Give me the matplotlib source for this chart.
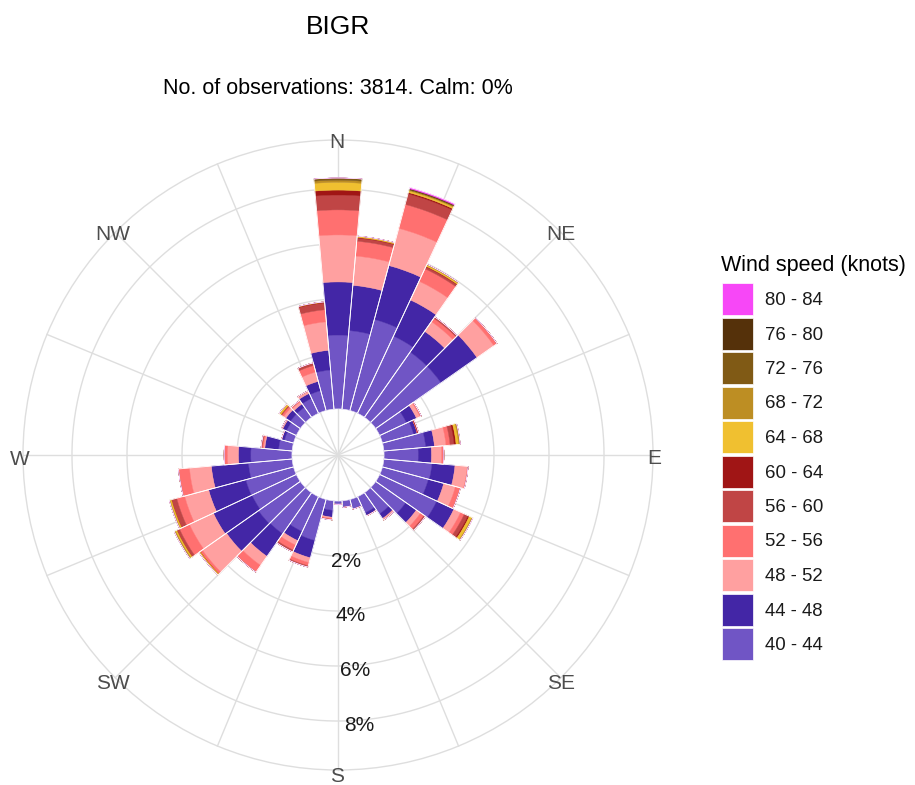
import numpy as np
import matplotlib
matplotlib.use("Agg")
import matplotlib.pyplot as plt
from matplotlib.patches import Rectangle

plt.rcParams['font.family'] = ['Liberation Sans', 'DejaVu Sans']

# wind directions (degrees, 10 degree sectors)
directions = list(range(0, 360, 10))

# frequency (%) of each speed class per direction
s40_44 = [2.69, 2.87, 3.43, 3.10, 2.90, 2.90, 1.08, 1.18, 1.53, 1.25, 1.76, 1.73,
          2.29, 1.34, 0.95, 0.65, 0.37, 0.24, 0.12, 0.35, 1.55, 1.40, 1.83, 1.86,
          1.78, 1.80, 1.60, 1.50, 0.50, 0.35, 0.40, 0.45, 0.45, 0.60, 0.75, 1.43]
s44_48 = [1.93, 1.65, 2.03, 1.45, 0.92, 1.60, 0.40, 0.14, 0.32, 0.48, 0.84, 0.58,
          0.69, 0.47, 0.20, 0.12, 0.00, 0.00, 0.00, 0.25, 0.65, 0.37, 1.00, 1.42,
          1.55, 1.40, 1.35, 0.45, 0.50, 0.11, 0.15, 0.20, 0.15, 0.20, 0.35, 0.72]
s48_52 = [1.71, 1.07, 1.40, 0.75, 0.43, 0.75, 0.14, 0.00, 0.42, 0.37, 0.45, 0.44,
          0.27, 0.19, 0.07, 0.00, 0.00, 0.00, 0.00, 0.05, 0.18, 0.18, 0.40, 1.07,
          0.96, 0.90, 0.80, 0.40, 0.05, 0.00, 0.05, 0.10, 0.10, 0.10, 0.35, 1.04]
s52_56 = [0.91, 0.54, 0.90, 0.50, 0.15, 0.14, 0.05, 0.00, 0.15, 0.08, 0.03, 0.19,
          0.15, 0.15, 0.00, 0.00, 0.00, 0.00, 0.00, 0.03, 0.12, 0.20, 0.30, 0.10,
          0.40, 0.30, 0.40, 0.12, 0.05, 0.00, 0.00, 0.08, 0.05, 0.00, 0.25, 0.44]
s56_60 = [0.54, 0.12, 0.40, 0.08, 0.06, 0.00, 0.00, 0.03, 0.15, 0.00, 0.00, 0.00,
          0.15, 0.06, 0.00, 0.00, 0.00, 0.00, 0.00, 0.02, 0.05, 0.07, 0.00, 0.00,
          0.11, 0.20, 0.00, 0.00, 0.04, 0.00, 0.00, 0.04, 0.00, 0.00, 0.10, 0.25]
s60_64 = [0.18, 0.02, 0.05, 0.02, 0.00, 0.00, 0.00, 0.02, 0.07, 0.00, 0.00, 0.00,
          0.05, 0.00, 0.00, 0.00, 0.00, 0.00, 0.00, 0.00, 0.00, 0.00, 0.00, 0.00,
          0.00, 0.00, 0.00, 0.00, 0.00, 0.00, 0.00, 0.00, 0.00, 0.00, 0.00, 0.02]
s64_68 = [0.28, 0.05, 0.06, 0.05, 0.00, 0.00, 0.00, 0.00, 0.09, 0.00, 0.00, 0.00,
          0.10, 0.00, 0.00, 0.00, 0.00, 0.00, 0.00, 0.00, 0.00, 0.00, 0.00, 0.05,
          0.05, 0.05, 0.00, 0.00, 0.00, 0.00, 0.00, 0.08, 0.00, 0.00, 0.00, 0.02]
s68_72 = [0.08, 0.00, 0.03, 0.03, 0.00, 0.00, 0.00, 0.00, 0.06, 0.00, 0.00, 0.00,
          0.04, 0.00, 0.00, 0.00, 0.00, 0.00, 0.00, 0.00, 0.00, 0.00, 0.00, 0.00,
          0.05, 0.03, 0.00, 0.00, 0.00, 0.00, 0.00, 0.00, 0.00, 0.00, 0.00, 0.00]
s72_76 = [0.08, 0.00, 0.03, 0.00, 0.00, 0.00, 0.00, 0.00, 0.00, 0.00, 0.00, 0.00,
          0.00, 0.00, 0.00, 0.00, 0.00, 0.00, 0.00, 0.00, 0.00, 0.00, 0.00, 0.00,
          0.00, 0.00, 0.00, 0.00, 0.00, 0.00, 0.00, 0.00, 0.00, 0.00, 0.00, 0.00]
s76_80 = [0.00, 0.00, 0.02, 0.00, 0.00, 0.00, 0.00, 0.00, 0.00, 0.00, 0.00, 0.00,
          0.00, 0.00, 0.00, 0.00, 0.00, 0.00, 0.00, 0.00, 0.00, 0.00, 0.00, 0.00,
          0.00, 0.00, 0.00, 0.00, 0.00, 0.00, 0.00, 0.00, 0.00, 0.00, 0.00, 0.00]
s80_84 = [0.00, 0.00, 0.05, 0.00, 0.00, 0.00, 0.00, 0.00, 0.00, 0.00, 0.00, 0.00,
          0.00, 0.00, 0.00, 0.00, 0.00, 0.00, 0.00, 0.00, 0.00, 0.00, 0.00, 0.00,
          0.00, 0.00, 0.00, 0.00, 0.00, 0.00, 0.00, 0.00, 0.00, 0.00, 0.00, 0.00]

speed_labels = ["40 - 44", "44 - 48", "48 - 52", "52 - 56", "56 - 60", "60 - 64",
                "64 - 68", "68 - 72", "72 - 76", "76 - 80", "80 - 84"]
speed_colors = ["#7055C5", "#4326A6", "#FFA0A0", "#FF7070", "#C04545", "#A01515",
                "#F0C030", "#BD8E23", "#805A15", "#55310A", "#F747F7"]
series = [s40_44, s44_48, s48_52, s52_56, s56_60, s60_64,
          s64_68, s68_72, s72_76, s76_80, s80_84]

ring_values = [2, 4, 6, 8]
compass = ["N", "NE", "E", "SE", "S", "SW", "W", "NW"]

rmax = 9.78
hole = 1.67
grid_col = "#DEDEDE"

fig = plt.figure(figsize=(9.15, 7.85), dpi=100)
W, H = 915, 785
cx, cy, R = 338, 455, 315
ax = fig.add_axes([(cx - R) / W, (H - cy - R) / H, 2 * R / W, 2 * R / H],
                  projection="polar")
ax.set_theta_zero_location("N")
ax.set_theta_direction(-1)
ax.set_ylim(0, rmax)
ax.set_rorigin(-hole)
ax.set_xticks([])
ax.set_yticks([])
ax.grid(False)
ax.spines["inner"].set_linewidth(0)
ax.spines["inner"].set_edgecolor("none")
ax.spines["polar"].set_color(grid_col)
ax.spines["polar"].set_linewidth(1.0)

# grid: rings and 16 spokes reaching the centre
tt = np.linspace(0, 2 * np.pi, 400)
for rv in ring_values:
    ax.plot(tt, np.full_like(tt, rv), color=grid_col, lw=1.0, zorder=0)
for k in range(16):
    a = np.deg2rad(k * 22.5)
    ax.plot([a, a], [-hole, rmax], color=grid_col, lw=1.0, zorder=0, clip_on=False)

theta = np.deg2rad(directions)
width = np.deg2rad(10)
bottom = np.zeros(len(directions))
for vals, col in zip(series, speed_colors):
    vals = np.array(vals)
    ax.bar(theta, vals, width=width, bottom=bottom, color=col,
           edgecolor=col, linewidth=0.3, zorder=2)
    bottom = bottom + vals
# thin white outline of each whole bar (separates neighbours)
ax.bar(theta, bottom, width=width, bottom=0, facecolor="none",
       edgecolor="white", linewidth=0.6, zorder=3)

for rv in ring_values:
    ax.text(np.deg2rad(175.5), rv + 0.2, f"{rv}%", ha="center", va="center",
            fontsize=15, color="#1A1A1A", zorder=5)

# compass labels placed just on the outer circle
lax = fig.add_axes([0, 0, 1, 1], facecolor="none")
lax.set_xlim(0, W)
lax.set_ylim(H, 0)
lax.axis("off")
for i, lab in enumerate(compass):
    b = np.deg2rad(i * 45)
    lax.text(337 + 317 * np.sin(b), 459 - 317 * np.cos(b), lab, ha="center",
             va="center", fontsize=15, color="#4D4D4D")

lax.text(cx, 27, "BIGR", ha="center", va="center", fontsize=19, color="black")
lax.text(cx, 89, "No. of observations: 3814. Calm: 0%", ha="center",
         va="center", fontsize=15.5, color="black")

# legend
lax.text(721, 266, "Wind speed (knots)", ha="left", va="center", fontsize=15.5,
         color="black")
for i, (lab, col) in enumerate(zip(speed_labels[::-1], speed_colors[::-1])):
    top = 283 + i * 34.5
    lax.add_patch(Rectangle((722, top), 31, 32, facecolor=col, edgecolor="white",
                            linewidth=0.5))
    lax.text(765, top + 17.5, lab, ha="left", va="center", fontsize=13.4,
             color="#1A1A1A")

fig.savefig("out.png", dpi=100)
